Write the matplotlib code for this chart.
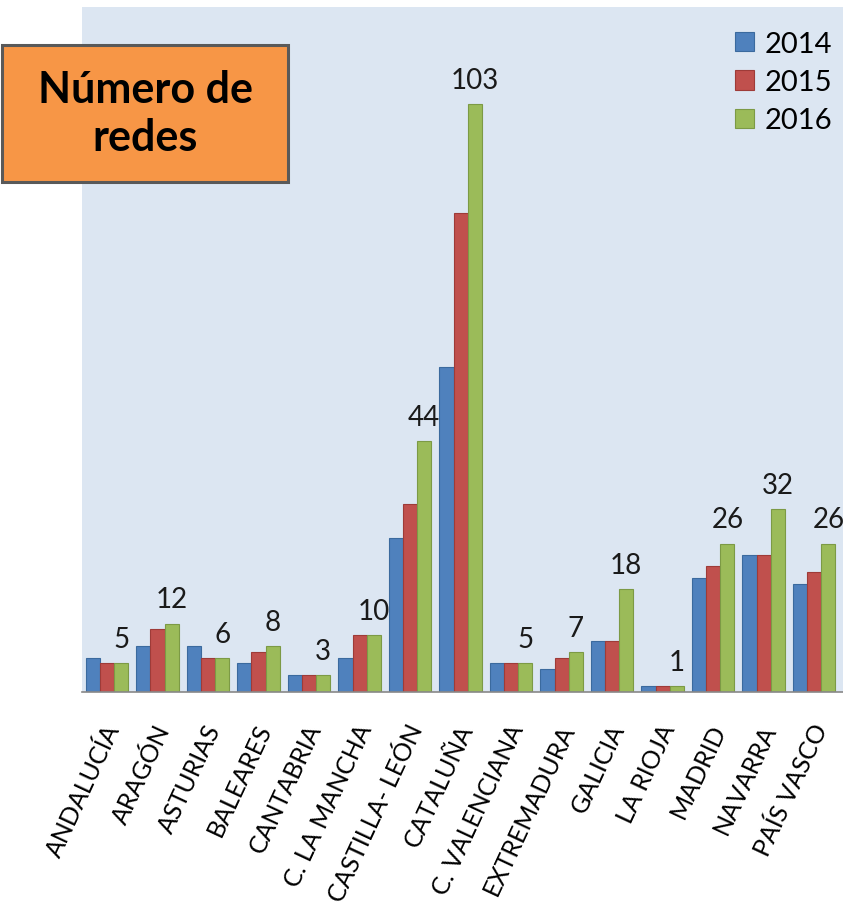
import matplotlib
matplotlib.use("Agg")
import matplotlib.pyplot as plt
from matplotlib.patches import Rectangle
from matplotlib.transforms import ScaledTranslation
import numpy as np

plt.rcParams['font.family'] = ['Lato', 'DejaVu Sans']

categories = ["ANDALUCÍA", "ARAGÓN", "ASTURIAS", "BALEARES", "CANTABRIA",
              "C. LA MANCHA", "CASTILLA- LEÓN", "CATALUÑA", "C. VALENCIANA",
              "EXTREMADURA", "GALICIA", "LA RIOJA", "MADRID", "NAVARRA", "PAÍS VASCO"]
v2014 = [6, 8, 8, 5, 3, 6, 27, 57, 5, 4, 9, 1, 20, 24, 19]
v2015 = [5, 11, 6, 7, 3, 10, 33, 84, 5, 6, 9, 1, 22, 24, 21]
v2016 = [5, 12, 6, 8, 3, 10, 44, 103, 5, 7, 18, 1, 26, 32, 26]
series_names = ["2014", "2015", "2016"]
colors = ["#4F81BD", "#C0504D", "#9BBB59"]
edges = ["#3B6A9E", "#9E3B38", "#7C9A45"]

fig = plt.figure(figsize=(8.43, 9.12), dpi=100)
ax = fig.add_axes([82/843, 1 - 693/912, 1 - 82/843, (693 - 8)/912])
ax.set_facecolor("#DCE6F2")

x = np.arange(len(categories))
w = 0.28
data = [v2014, v2015, v2016]
for k, (vals, c, e, n) in enumerate(zip(data, colors, edges, series_names)):
    ax.bar(x + (k - 1) * w, vals, width=w, color=c, edgecolor=e, linewidth=0.8, label=n)

for xi, v in zip(x + w, v2016):
    ax.annotate(str(v), (xi, v), xytext=(0, 8), textcoords="offset points",
                ha="center", va="bottom", fontsize=20, color="#1a1a1a")

ax.set_xlim(-0.495, 14.57)
ax.set_ylim(0, 120)
ax.set_yticks([])
for s in ["left", "right", "top"]:
    ax.spines[s].set_visible(False)
ax.spines["bottom"].set_color("#888888")
ax.spines["bottom"].set_linewidth(1.2)

ax.set_xticks(x)
ax.set_xticklabels(categories, rotation=65, ha="right", rotation_mode="anchor",
                   fontsize=18)
ax.tick_params(axis="x", length=0, pad=20)
off = ScaledTranslation(-4/100, 0, fig.dpi_scale_trans)
for lab in ax.get_xticklabels():
    lab.set_transform(lab.get_transform() + off)

ax.legend(loc="upper left", bbox_to_anchor=((735 - 82)/761, 1 - (32 - 8)/685),
          frameon=False, fontsize=21, handlelength=0.65, handleheight=0.65,
          handletextpad=0.35, labelspacing=0.42, borderpad=0, borderaxespad=0)

# Title box
W, H = 843, 912
rect = Rectangle((2/W, 1 - 183/H), (288 - 2)/W, (183 - 46)/H, transform=fig.transFigure,
                 facecolor="#F79646", edgecolor="#595959", linewidth=2.2, zorder=5)
fig.add_artist(rect)
fig.text(145/W, 1 - 114/H, "Número de\nredes", ha="center", va="center",
         fontsize=31, fontweight="bold", color="black", linespacing=1.25, zorder=6)

fig.savefig("out.png", dpi=100)
